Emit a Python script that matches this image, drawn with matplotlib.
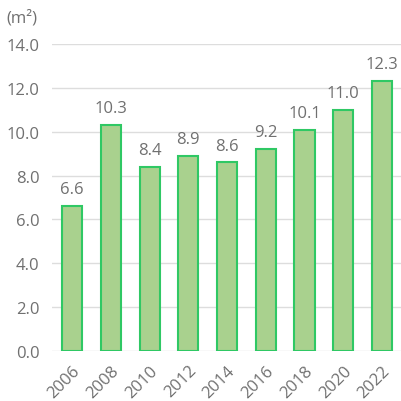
import matplotlib
matplotlib.use("Agg")
import matplotlib.pyplot as plt

years = ["2006", "2008", "2010", "2012", "2014", "2016", "2018", "2020", "2022"]
values = [6.6, 10.3, 8.4, 8.9, 8.6, 9.2, 10.1, 11.0, 12.3]
yticks = [0, 2, 4, 6, 8, 10, 12, 14]

plt.rcParams['font.family'] = ['Open Sans', 'DejaVu Sans']
txt = '#707070'

fig = plt.figure(figsize=(4.01, 4.02), dpi=100)
ax = fig.add_axes([0.1297, 0.1244, 0.8703, 0.7637])
x = list(range(len(years)))
ax.bar(x, values, width=0.52, color='#a9d18e', edgecolor='#2fc864', linewidth=1.5, zorder=3)
for xi, v in zip(x, values):
    ax.text(xi, v + 0.4, f"{v:.1f}", ha='center', va='bottom', fontsize=12, color=txt)

ax.set_ylim(0, 14)
ax.set_xlim(-0.52, 8.49)
ax.set_yticks(yticks)
ax.set_yticklabels([f"{t:.1f}" for t in yticks], fontsize=12, color=txt)
ax.set_xticks(x)
ax.set_xticklabels(years, rotation=45, ha='right', rotation_mode='anchor', fontsize=12, color=txt)
ax.tick_params(axis='both', length=0, pad=9)
ax.tick_params(axis='x', pad=8)
ax.grid(axis='y', color='#dddddd', linewidth=1, zorder=0)
for s in ax.spines.values():
    s.set_visible(False)
fig.text(0.015, 0.955, "(m²)", fontsize=12, color=txt, ha='left', va='center')
fig.savefig("out.png", dpi=100)
